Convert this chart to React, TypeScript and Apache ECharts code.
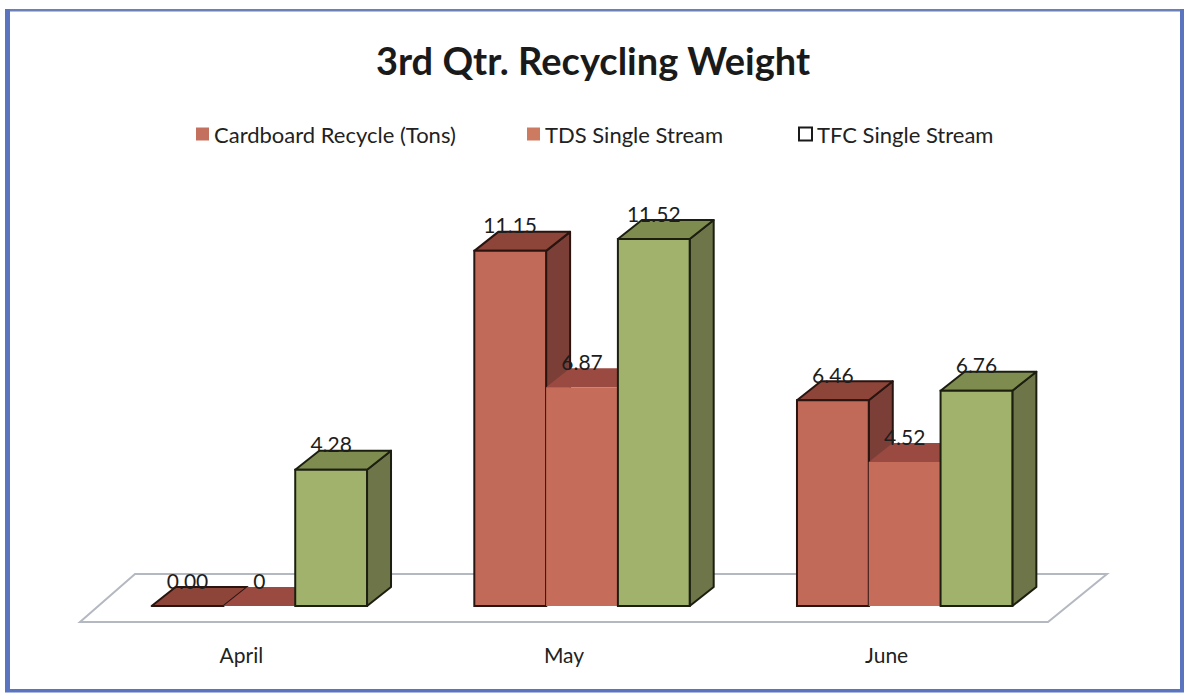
import React, { useEffect, useRef } from "react";
import * as echarts from "echarts";

const categories = ["April", "May", "June"];
const seriesNames = ["Cardboard Recycle (Tons)", "TDS Single Stream", "TFC Single Stream"];
const cardboard = [0, 11.15, 6.46];
const tds = [0, 6.87, 4.52];
const tfc = [4.28, 11.52, 6.76];
const cardboardLabels = ["0.00", "11.15", "6.46"];
const tdsLabels = ["0", "6.87", "4.52"];
const tfcLabels = ["4.28", "11.52", "6.76"];

const FONT = "Lato, 'Open Sans', sans-serif";
const W = 1186;
const H = 694;
const inset = { x: 18, y: 16 };
const depth = { x: 24, y: 19 };
const floorDepth = { xl: 55, xr: 59, y: 48 };

const looks = [
  { front: "#C26A5A", top: "#8E4539", side: "#7C3F38", stroke: "#2a1410", lineWidth: 2 },
  { front: "#C56C5A", top: "#9A4A40", side: "#7C3F38", stroke: "none", lineWidth: 0 },
  { front: "#A0B26C", top: "#7F8C50", side: "#6D7549", stroke: "#1c1f10", lineWidth: 2 },
];

function barRenderer(seriesIdx: number, labels: string[]) {
  return (params: any, api: any) => {
    const i = api.value(0);
    const v = api.value(1);
    const look = looks[seriesIdx];
    const base = api.coord([i, 0]);
    const top = api.coord([i, v]);
    const barW = api.size([1, 0])[0] * 0.2225;
    const x0 = base[0] + inset.x + (seriesIdx - 1.5) * barW;
    const x1 = x0 + barW;
    const yb = base[1] - inset.y;
    const yt = top[1] - inset.y;
    const stroke = look.stroke === "none" ? undefined : look.stroke;
    const shape = (points: number[][], fill: string) => ({
      type: "polygon",
      shape: { points },
      style: { fill, stroke, lineWidth: look.lineWidth, lineJoin: "round" },
    });
    const children: any[] = [];
    if (v > 0) {
      children.push(
        shape(
          [[x1, yt], [x1 + depth.x, yt - depth.y], [x1 + depth.x, yb - depth.y], [x1, yb]],
          look.side,
        ),
      );
    }
    children.push(
      shape(
        [[x0, yt], [x0 + depth.x, yt - depth.y], [x1 + depth.x, yt - depth.y], [x1, yt]],
        look.top,
      ),
    );
    if (v > 0) {
      children.push({
        type: "rect",
        shape: { x: x0, y: yt, width: barW, height: yb - yt },
        style: { fill: look.front, stroke, lineWidth: look.lineWidth },
      });
    }
    children.push({
      type: "text",
      z2: 50,
      style: {
        x: (x0 + x1) / 2,
        y: yt - 26,
        text: labels[i],
        font: `21px ${FONT}`,
        fill: "#1d1d1d",
        align: "center",
        verticalAlign: "middle",
      },
    });
    return { type: "group", children };
  };
}

function floorRenderer(params: any, api: any) {
  const w = api.size([1, 0])[0];
  const l = api.coord([0, 0]);
  const r = api.coord([categories.length - 1, 0]);
  const xl = l[0] - w / 2;
  const xr = r[0] + w / 2;
  const y = l[1];
  return {
    type: "polygon",
    shape: {
      points: [
        [xl, y],
        [xl + floorDepth.xl, y - floorDepth.y],
        [xr + floorDepth.xr, y - floorDepth.y],
        [xr, y],
      ],
    },
    style: { fill: "#ffffff", stroke: "#b4b8c0", lineWidth: 2 },
  };
}

const frameColor = "#5B74C0";

export default function App() {
  const ref = useRef<HTMLDivElement>(null);
  useEffect(() => {
    const chart = echarts.init(ref.current!, undefined, { renderer: "svg" });
    const dataOf = (vals: number[]) => vals.map((v, i) => [i, v]);
    const legendText = { fontFamily: FONT, fontSize: 22, color: "#222222" };
    const bar = (idx: number, vals: number[], labels: string[]) => ({
      type: "custom",
      name: seriesNames[idx],
      clip: false,
      renderItem: barRenderer(idx, labels),
      encode: { x: 0, y: 1 },
      data: dataOf(vals),
      z: 3 + idx,
    });
    chart.setOption({
      animation: false,
      backgroundColor: "#ffffff",
      title: {
        text: "3rd Qtr. Recycling Weight",
        left: "center",
        top: 36,
        textStyle: { fontFamily: FONT, fontSize: 38, fontWeight: "bold", color: "#1a1a1a" },
      },
      legend: [
        {
          left: 191,
          top: 118,
          itemWidth: 13,
          itemHeight: 13,
          textStyle: legendText,
          data: [{ name: seriesNames[0], icon: "rect", itemStyle: { color: "#C4705F", borderWidth: 0 } }],
        },
        {
          left: 522,
          top: 118,
          itemWidth: 13,
          itemHeight: 13,
          textStyle: legendText,
          data: [{ name: seriesNames[1], icon: "rect", itemStyle: { color: "#CC7A60", borderWidth: 0 } }],
        },
        {
          left: 793,
          top: 118,
          itemWidth: 13,
          itemHeight: 13,
          textStyle: legendText,
          data: [
            {
              name: seriesNames[2],
              icon: "rect",
              itemStyle: { color: "#ffffff", borderColor: "#1a1a1a", borderWidth: 2 },
            },
          ],
        },
      ],
      grid: { left: 80, right: W - 1048, bottom: H - 622, top: 144.25 },
      xAxis: {
        type: "category",
        data: categories,
        axisLine: { show: false },
        axisTick: { show: false },
        axisLabel: { fontFamily: FONT, fontSize: 21, color: "#222222", margin: 22 },
      },
      yAxis: { type: "value", min: 0, max: 15, show: false },
      series: [
        {
          type: "custom",
          name: "floor",
          clip: false,
          renderItem: floorRenderer,
          encode: { x: 0, y: 1 },
          data: [[0, 0]],
          z: 1,
          silent: true,
        },
        bar(0, cardboard, cardboardLabels),
        bar(1, tds, tdsLabels),
        bar(2, tfc, tfcLabels),
      ],
      graphic: [
        { type: "rect", shape: { x: 5, y: 9, width: 1179, height: 2.5 }, style: { fill: "#6C80B8" } },
        { type: "rect", shape: { x: 5, y: 9, width: 5, height: 683 }, style: { fill: frameColor } },
        { type: "rect", shape: { x: 1180, y: 9, width: 4, height: 683 }, style: { fill: frameColor } },
        { type: "rect", shape: { x: 5, y: 689, width: 1179, height: 3.5 }, style: { fill: frameColor } },
      ],
    });
    return () => chart.dispose();
  }, []);
  return <div ref={ref} style={{ position: "absolute", left: 0, top: 0, width: W, height: H }} />;
}
